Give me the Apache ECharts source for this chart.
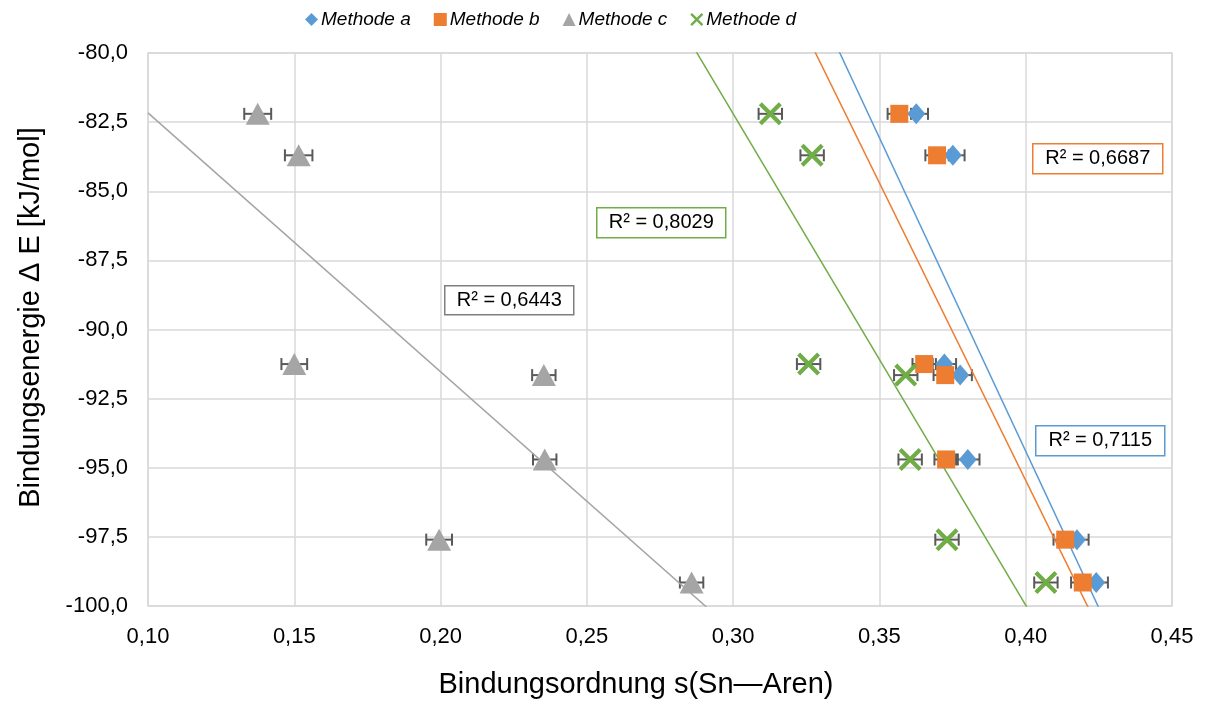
<!DOCTYPE html>
<html>
<head>
<meta charset="utf-8">
<script src="https://cdn.jsdelivr.net/npm/echarts@6/dist/echarts.min.js"></script>
<style>
  html, body { margin: 0; padding: 0; background: #fff; }
  #chart { width: 1205px; height: 704px; }
</style>
</head>
<body>
<div id="chart"></div>
<script>
// Binding energy levels shared by all methods (kJ/mol)
const energy = [-82.2, -83.7, -91.25, -91.65, -94.7, -97.6, -99.15];
// Bond order s(Sn—Aren) per method
const bondA = [0.3626, 0.3751, 0.3722, 0.3776, 0.3802, 0.4175, 0.4241];
const bondB = [0.3568, 0.3697, 0.3653, 0.3725, 0.3728, 0.4135, 0.4195];
const bondC = [0.1375, 0.1515, 0.1500, 0.2353, 0.2356, 0.1995, 0.2858];
const bondD = [0.3127, 0.3270, 0.3258, 0.3590, 0.3605, 0.3731, 0.4069];
// Horizontal error (± bond order)
const errA = [0.004, 0.004, 0.004, 0.004, 0.004, 0.004, 0.004];
const errB = [0.004, 0.004, 0.004, 0.004, 0.004, 0.004, 0.004];
const errC = [0.0046, 0.0047, 0.0044, 0.0040, 0.0040, 0.0044, 0.0040];
const errD = [0.004, 0.004, 0.004, 0.004, 0.004, 0.004, 0.004];
// Coefficients of determination of the linear trendlines
const r2Labels = ['R² = 0,7115', 'R² = 0,6687', 'R² = 0,6443', 'R² = 0,8029'];
const methodNames = ['Methode a', 'Methode b', 'Methode c', 'Methode d'];
const colors = ['#5B9BD5', '#ED7D31', '#A5A5A5', '#70AD47'];

const crossPath = 'path://M0,1.3 L1.3,0 L5,3.7 L8.7,0 L10,1.3 L6.3,5 L10,8.7 L8.7,10 L5,6.3 L1.3,10 L0,8.7 L3.7,5 Z';
const symbols = ['diamond', 'rect', 'triangle', crossPath];
const symbolSizes = [[18, 21], 18, [24, 22], 23];

const bonds = [bondA, bondB, bondC, bondD];
const errs = [errA, errB, errC, errD];

function fit(xs, ys) {
  const n = xs.length;
  const mx = xs.reduce((s, v) => s + v, 0) / n;
  const my = ys.reduce((s, v) => s + v, 0) / n;
  let sxy = 0, sxx = 0;
  for (let i = 0; i < n; i++) {
    sxy += (xs[i] - mx) * (ys[i] - my);
    sxx += (xs[i] - mx) * (xs[i] - mx);
  }
  const m = sxy / sxx;
  return { m: m, b: my - m * mx };
}

const comma = (v, d) => v.toFixed(d).replace('.', ',');

const series = [];
// error bars first, so the markers sit on top
bonds.forEach((xs, k) => {
  series.push({
    type: 'custom',
    silent: true,
    z: 2,
    data: xs.map((x, i) => [x, energy[i], errs[k][i]]),
    renderItem: function (params, api) {
      const x = api.value(0), y = api.value(1), e = api.value(2);
      const p1 = api.coord([x - e, y]);
      const p2 = api.coord([x + e, y]);
      const h = 6;
      const st = { stroke: '#595959', lineWidth: 2 };
      return {
        type: 'group',
        children: [
          { type: 'line', shape: { x1: p1[0], y1: p1[1], x2: p2[0], y2: p2[1] }, style: st },
          { type: 'line', shape: { x1: p1[0], y1: p1[1] - h, x2: p1[0], y2: p1[1] + h }, style: st },
          { type: 'line', shape: { x1: p2[0], y1: p2[1] - h, x2: p2[0], y2: p2[1] + h }, style: st }
        ]
      };
    }
  });
});
// linear trendlines, extended over the whole axis and clipped to the plot
bonds.forEach((xs, k) => {
  const f = fit(xs, energy);
  series.push({
    type: 'line',
    silent: true,
    clip: true,
    z: 3,
    symbol: 'none',
    lineStyle: { color: colors[k], width: 1.5 },
    data: [[0.10, f.m * 0.10 + f.b], [0.45, f.m * 0.45 + f.b]]
  });
});
// data points
bonds.forEach((xs, k) => {
  series.push({
    type: 'scatter',
    name: methodNames[k],
    z: 4,
    symbol: symbols[k],
    symbolSize: symbolSizes[k],
    itemStyle: { color: colors[k], opacity: 1 },
    data: xs.map((x, i) => [x, energy[i]])
  });
});

function r2Box(left, top, w, h, text, color) {
  return {
    type: 'group',
    left: left, top: top,
    children: [
      { type: 'rect', shape: { x: 0, y: 0, width: w, height: h },
        style: { fill: '#fff', stroke: color, lineWidth: 1.5 } },
      { type: 'text', x: w / 2, y: h / 2,
        style: { text: text, fill: '#000', font: '20px "Liberation Sans", Arial, sans-serif',
                 align: 'center', verticalAlign: 'middle' } }
    ],
    z: 10
  };
}

const chart = echarts.init(document.getElementById('chart'), null, { renderer: 'canvas' });
chart.setOption({
  animation: false,
  backgroundColor: '#fff',
  textStyle: { fontFamily: '"Liberation Sans", Arial, sans-serif' },
  legend: {
    top: 5,
    left: 300,
    itemWidth: 13,
    itemHeight: 13,
    itemGap: 23,
    textStyle: { fontSize: 19, fontStyle: 'italic', color: '#000', padding: [0, 0, 0, -2] },
    data: methodNames.map((n, k) => ({ name: n, icon: symbols[k] }))
  },
  grid: { left: 148, right: 33, top: 53, bottom: 97, show: true, borderColor: '#d9d9d9', borderWidth: 1.5 },
  xAxis: {
    type: 'value',
    min: 0.10, max: 0.45, interval: 0.05,
    name: 'Bindungsordnung s(Sn—Aren)',
    nameLocation: 'middle',
    nameGap: 64,
    nameTextStyle: { fontSize: 29, color: '#000', padding: [0, 48, 0, 0] },
    axisLine: { show: false },
    axisTick: { show: false },
    axisLabel: { fontSize: 22, color: '#000', margin: 20, formatter: v => comma(v, 2) },
    splitLine: { lineStyle: { color: '#d9d9d9', width: 1.5 } }
  },
  yAxis: {
    type: 'value',
    min: -100, max: -80, interval: 2.5,
    name: 'Bindungsenergie Δ E [kJ/mol]',
    nameLocation: 'middle',
    nameGap: 103,
    nameTextStyle: { fontSize: 29, color: '#000', padding: [0, 0, 0, 24] },
    axisLine: { show: false },
    axisTick: { show: false },
    axisLabel: { fontSize: 22, color: '#000', margin: 20, formatter: v => comma(v, 1) },
    splitLine: { lineStyle: { color: '#d9d9d9', width: 1.5 } }
  },
  graphic: [
    r2Box(1032, 143, 130, 30, r2Labels[1], colors[1]),
    r2Box(596, 207, 129, 30, r2Labels[3], colors[3]),
    r2Box(444, 285, 129, 29, r2Labels[2], '#7f7f7f'),
    r2Box(1035, 425, 129, 30, r2Labels[0], colors[0])
  ],
  series: series
});
</script>
</body>
</html>
